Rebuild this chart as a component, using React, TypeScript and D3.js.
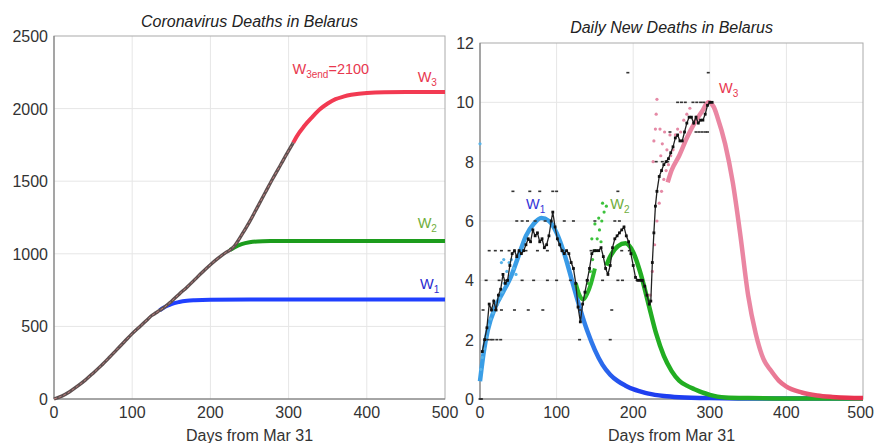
import React from 'react';
import * as d3 from 'd3';

// ---- left panel: cumulative deaths ----
const cumData = [[0,0],[10,20],[20,50],[30,88],[40,130],[50,178],[60,228],[70,282],[80,338],[90,394],[100,450],[110,500],[120,550],[125,575],[130,592],[135,610],[140,627],[150,672],[160,722],[170,770],[180,822],[190,875],[200,925],[210,970],[220,1010],[225,1026],[230,1050],[240,1130],[250,1220],[260,1320],[270,1420],[280,1520],[290,1615],[300,1710],[306,1765]];
const cumW1 = [[135,610],[140,628],[145,642],[150,654],[160,668],[170,676],[180,680],[200,684],[250,686],[500,686]];
const cumW2 = [[225,1026],[230,1042],[240,1066],[250,1079],[260,1085],[280,1088],[300,1089],[500,1089]];
const cumW3 = [[306,1765],[310,1805],[320,1880],[330,1940],[340,1995],[350,2035],[360,2065],[370,2082],[380,2095],[400,2108],[450,2114],[500,2115]];

// ---- right panel: daily new deaths ----
const dailyAvg = [[3,1.6],[6,2.0],[9,2.4],[12,3.2],[15,3.0],[18,3.3],[21,3.0],[24,3.5],[27,3.7],[30,4.2],[33,3.9],[36,4.0],[39,4.5],[42,4.9],[45,5.0],[48,4.8],[51,5.0],[54,4.9],[57,5.0],[60,5.2],[63,5.4],[66,5.3],[69,5.7],[72,5.5],[75,5.6],[78,5.3],[81,5.4],[84,5.1],[87,5.2],[90,5.5],[93,6.0],[95,6.3],[98,5.8],[101,5.4],[104,5.2],[107,5.0],[110,4.9],[113,5.0],[116,4.9],[119,4.6],[122,4.4],[125,3.9],[128,3.1],[131,2.6],[134,3.2],[137,3.6],[140,4.0],[143,4.4],[146,4.9],[149,5.0],[152,5.0],[155,5.0],[158,5.1],[161,4.8],[164,4.4],[167,4.2],[170,4.5],[173,5.1],[176,5.4],[179,5.5],[182,5.6],[185,5.7],[188,5.8],[191,5.5],[194,5.3],[197,4.9],[200,4.5],[203,4.1],[206,4.0],[209,4.0],[212,4.0],[215,3.8],[218,3.5],[221,3.2],[223,3.3],[225,4.6],[227,5.6],[229,6.5],[231,7.0],[234,7.5],[237,7.7],[240,7.9],[243,8.0],[246,8.1],[249,8.3],[252,8.5],[255,8.8],[258,8.9],[261,8.7],[264,8.7],[267,9.0],[270,9.3],[273,9.5],[276,9.5],[279,9.3],[282,9.5],[285,9.3],[288,9.4],[291,9.4],[294,9.6],[297,9.9],[300,10.0],[303,10.0]];
const dailyRaw = [[0,0],[1,0],[2,0],[10,2],[14,2],[17,2],[22,2],[27,2],[130,2],[170,2],[4,3],[20,3],[28,3],[45,3],[63,3],[82,3],[130,3],[172,3],[8,4],[25,4],[33,4],[55,4],[70,4],[88,4],[100,4],[118,4],[140,4],[160,4],[180,4],[186,4],[205,4],[210,4],[12,5],[20,5],[28,5],[38,5],[60,5],[75,5],[88,5],[108,5],[145,5],[152,5],[185,5],[195,5],[48,6],[55,6],[62,6],[72,6],[85,6],[110,6],[122,6],[150,6],[176,6],[182,6],[43,7],[65,7],[78,7],[95,7],[100,7],[180,7],[230,8],[238,8],[245,8],[248,9],[282,9],[286,9],[290,9],[294,9],[297,9],[258,10],[263,10],[268,10],[278,10],[283,10],[288,10],[292,10],[193,11],[298,11]];
const cyanPts = [[0,8.6],[1,1.0],[3,1.4],[5,1.7],[8,2.1],[11,2.5],[14,2.7],[17,2.9],[20,3.0],[23,3.2],[26,3.4],[29,3.6],[28,4.6],[31,4.7],[32,3.9],[35,4.3],[38,4.6],[41,4.7],[44,4.4],[47,4.2]];
const greenPts = [[138,3.5],[141,3.9],[144,4.3],[147,4.7],[150,5.0],[153,5.4],[156,5.7],[159,6.0],[162,6.3],[165,6.5],[150,5.9],[160,6.6],[146,5.4],[155,6.1],[158,5.3]];
const pinkPts = [[222,3.5],[225,4.3],[228,5.2],[231,6.0],[234,6.6],[237,7.0],[240,7.4],[243,7.7],[226,8.0],[227,8.7],[229,9.1],[230,9.6],[231,10.1],[235,9.1],[238,8.6],[241,9.0],[236,8.2],[246,7.9],[249,8.2],[252,8.4],[255,8.9],[258,9.1],[262,9.0],[266,9.4],[270,9.6],[274,9.8],[244,8.4],[248,8.9]];
const dW1 = [[0,0.6],[5,1.6],[10,2.3],[20,3.1],[30,3.6],[40,4.1],[50,4.8],[60,5.5],[70,5.9],[80,6.1],[90,6.0],[100,5.6],[110,4.9],[120,4.0],[130,3.1],[140,2.3],[150,1.65],[160,1.15],[170,0.82],[180,0.6],[190,0.45],[200,0.33],[210,0.25],[220,0.18],[240,0.1],[260,0.06],[300,0.03],[350,0.02],[400,0.02],[500,0.02]];
const dW2a = [[125,3.9],[130,3.5],[135,3.35],[140,3.55],[145,3.9],[150,4.4]];
const dW2 = [[165,4.5],[170,4.8],[180,5.15],[190,5.25],[200,4.95],[210,4.2],[220,3.2],[230,2.2],[240,1.45],[250,0.95],[260,0.62],[270,0.45],[280,0.33],[290,0.22],[300,0.14],[310,0.08],[320,0.05],[350,0.03],[400,0.02],[500,0.02]];
const dW3 = [[245,7.3],[250,7.7],[260,8.2],[270,8.8],[280,9.3],[290,9.7],[298,10.0],[305,9.85],[310,9.5],[320,8.6],[330,7.3],[340,5.5],[350,3.5],[360,2.2],[370,1.35],[380,0.95],[390,0.62],[400,0.42],[420,0.22],[440,0.12],[460,0.07],[480,0.04],[500,0.03]];

const xTicks = [0, 100, 200, 300, 400, 500];
const cumTicks = [0, 500, 1000, 1500, 2000, 2500];
const dailyTicks = [0, 2, 4, 6, 8, 10, 12];

const FONT = '"Liberation Sans", Arial, sans-serif';

type P = number[];

function Panel({ x, y, yTicks, title, titleY, clampRight }: any) {
  const [x0, x1] = x.range();
  const [y0, y1] = y.range();
  return (
    <g fontFamily={FONT}>
      {xTicks.slice(1, -1).map(t => (
        <line key={'gx' + t} x1={x(t)} x2={x(t)} y1={y0} y2={y1} stroke="#e6e6e6" />
      ))}
      {yTicks.slice(1, -1).map((t: number) => (
        <line key={'gy' + t} x1={x0} x2={x1} y1={y(t)} y2={y(t)} stroke="#e6e6e6" />
      ))}
      <rect x={x0} y={y1} width={x1 - x0} height={y0 - y1} fill="none" stroke="#aaa" />
      <line x1={x0} x2={x0} y1={y0} y2={y1} stroke="#777" />
      <line x1={x0} x2={x1} y1={y0} y2={y0} stroke="#777" />
      {xTicks.map((t, i) => {
        const last = clampRight && i === xTicks.length - 1;
        return (
          <text key={'tx' + t} x={last ? 874 : x(t)} y={y0 + 19} textAnchor={last ? 'end' : 'middle'} fontSize={16} fill="#333">{t}</text>
        );
      })}
      {yTicks.map((t: number) => (
        <text key={'ty' + t} x={x0 - 6} y={y(t) + 6} textAnchor="end" fontSize={16} fill="#333">{t}</text>
      ))}
      <text x={(x0 + x1) / 2} y={441} textAnchor="middle" fontSize={16} fill="#333">Days from Mar 31</text>
      <text x={(x0 + x1) / 2} y={titleY} textAnchor="middle" fontSize={16} fontStyle="italic" fill="#222">{title}</text>
    </g>
  );
}

function Label({ x, y, sub, color, extra }: any) {
  return (
    <text x={x} y={y} fill={color} fontSize={14.5} fontFamily={FONT}>
      W<tspan dy={4} fontSize={10}>{sub}</tspan>
      {extra ? <tspan dy={-4} fontSize={14.5}>{extra}</tspan> : null}
    </text>
  );
}

export default function App() {
  const xL = d3.scaleLinear().domain([0, 500]).range([54, 445]);
  const yL = d3.scaleLinear().domain([0, 2500]).range([399, 36]);
  const xR = d3.scaleLinear().domain([0, 500]).range([480, 863]);
  const yR = d3.scaleLinear().domain([0, 12]).range([399, 43]);

  const lineL = d3.line<P>().x(d => xL(d[0])).y(d => yL(d[1])).curve(d3.curveMonotoneX);
  const lineR = d3.line<P>().x(d => xR(d[0])).y(d => yR(d[1])).curve(d3.curveMonotoneX);
  const lineRaw = d3.line<P>().x(d => xR(d[0])).y(d => yR(d[1]));

  return (
    <svg width={875} height={443} style={{ position: 'absolute', left: 0, top: 0, background: '#fff' }}>
      <defs>
        <linearGradient id="gW1" gradientUnits="userSpaceOnUse" x1={xR(110)} x2={xR(200)} y1={0} y2={0}>
          <stop offset="0" stopColor="#3a9ee6" />
          <stop offset="1" stopColor="#1e3ef0" />
        </linearGradient>
        <linearGradient id="gW3" gradientUnits="userSpaceOnUse" x1={xR(370)} x2={xR(470)} y1={0} y2={0}>
          <stop offset="0" stopColor="#ea86a2" />
          <stop offset="1" stopColor="#e8324e" />
        </linearGradient>
      </defs>

      <Panel x={xL} y={yL} yTicks={cumTicks} title="Coronavirus Deaths in Belarus" titleY={27} />
      <Panel x={xR} y={yR} yTicks={dailyTicks} title="Daily New Deaths in Belarus" titleY={33} clampRight />

      {/* left: cumulative */}
      <path d={lineL(cumW1) || ''} fill="none" stroke="#2040ff" strokeWidth={4} />
      <path d={lineL(cumW2) || ''} fill="none" stroke="#1c9c1c" strokeWidth={4} />
      <path d={lineL(cumW3) || ''} fill="none" stroke="#f23a52" strokeWidth={4} />
      <path d={lineL(cumData) || ''} fill="none" stroke="#5e5050" strokeWidth={3.4} />
      <path d={lineL(cumData) || ''} fill="none" stroke="#d88c8c" strokeWidth={0.8} strokeDasharray="3 2" />
      <Label x={xL(305)} y={yL(2240)} sub="3end" color="#e8384f" extra="=2100" />
      <Label x={xL(465)} y={yL(2180)} sub="3" color="#e8384f" />
      <Label x={xL(465)} y={yL(1180)} sub="2" color="#6fae3c" />
      <Label x={xL(468)} y={yL(760)} sub="1" color="#2a2ad0" />

      {/* right: daily */}
      <path d={lineR(dW1) || ''} fill="none" stroke="url(#gW1)" strokeWidth={4.5} />
      <path d={lineR(dW2a) || ''} fill="none" stroke="#2cb82c" strokeWidth={4} />
      <path d={lineR(dW2) || ''} fill="none" stroke="#22ad22" strokeWidth={4.5} />
      <path d={lineR(dW3) || ''} fill="none" stroke="url(#gW3)" strokeWidth={4.5} />
      {cyanPts.map((d, i) => (
        <circle key={'c' + i} cx={xR(d[0])} cy={yR(d[1])} r={1.6} fill="#58b4ea" />
      ))}
      {greenPts.map((d, i) => (
        <circle key={'g' + i} cx={xR(d[0])} cy={yR(d[1])} r={1.6} fill="#3cc23c" />
      ))}
      {pinkPts.map((d, i) => (
        <circle key={'p' + i} cx={xR(d[0])} cy={yR(d[1])} r={1.6} fill="#e58aa6" />
      ))}
      {dailyRaw.map((d, i) => (
        <rect key={'r' + i} x={xR(d[0]) - 1.5} y={yR(d[1]) - 0.8} width={3} height={1.6} fill="#333" />
      ))}
      <path d={lineRaw(dailyAvg) || ''} fill="none" stroke="#222" strokeWidth={1.3} />
      {dailyAvg.map((d, i) => (
        <rect key={'a' + i} x={xR(d[0]) - 1.4} y={yR(d[1]) - 1.4} width={2.8} height={2.8} fill="#111" />
      ))}
      <Label x={xR(60)} y={yR(6.4)} sub="1" color="#3434d8" />
      <Label x={xR(170)} y={yR(6.4)} sub="2" color="#6fae3c" />
      <Label x={xR(312)} y={yR(10.3)} sub="3" color="#e8384f" />
    </svg>
  );
}
